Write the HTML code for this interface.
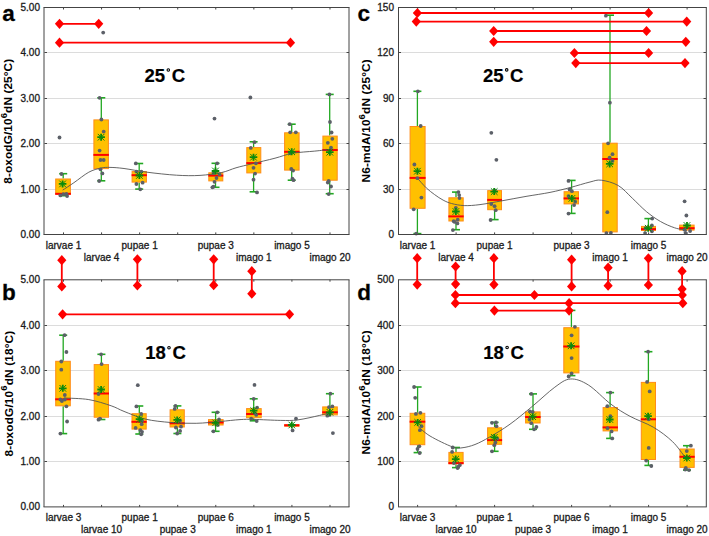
<!DOCTYPE html>
<html><head><meta charset="utf-8"><style>html,body{margin:0;padding:0;background:#fff;width:709px;height:536px;overflow:hidden}</style></head>
<body>
<svg width="709" height="536" viewBox="0 0 709 536" style="position:absolute;left:0;top:0;font-family:'Liberation Sans', sans-serif">
<rect width="709" height="536" fill="#fff"/>
<text x="40" y="238.10" text-anchor="end" font-size="10" fill="#1a1a1a" stroke="#1a1a1a" stroke-width="0.3">0.00</text>
<line x1="44.5" y1="189.50" x2="349.0" y2="189.50" stroke="#DCDCDC" stroke-width="1"/>
<line x1="44.5" y1="189.50" x2="47.0" y2="189.50" stroke="#444444" stroke-width="1"/>
<line x1="346.5" y1="189.50" x2="349.0" y2="189.50" stroke="#444444" stroke-width="1"/>
<text x="40" y="193.10" text-anchor="end" font-size="10" fill="#1a1a1a" stroke="#1a1a1a" stroke-width="0.3">1.00</text>
<line x1="44.5" y1="143.50" x2="349.0" y2="143.50" stroke="#DCDCDC" stroke-width="1"/>
<line x1="44.5" y1="143.50" x2="47.0" y2="143.50" stroke="#444444" stroke-width="1"/>
<line x1="346.5" y1="143.50" x2="349.0" y2="143.50" stroke="#444444" stroke-width="1"/>
<text x="40" y="147.10" text-anchor="end" font-size="10" fill="#1a1a1a" stroke="#1a1a1a" stroke-width="0.3">2.00</text>
<line x1="44.5" y1="98.50" x2="349.0" y2="98.50" stroke="#DCDCDC" stroke-width="1"/>
<line x1="44.5" y1="98.50" x2="47.0" y2="98.50" stroke="#444444" stroke-width="1"/>
<line x1="346.5" y1="98.50" x2="349.0" y2="98.50" stroke="#444444" stroke-width="1"/>
<text x="40" y="102.10" text-anchor="end" font-size="10" fill="#1a1a1a" stroke="#1a1a1a" stroke-width="0.3">3.00</text>
<line x1="44.5" y1="52.50" x2="349.0" y2="52.50" stroke="#DCDCDC" stroke-width="1"/>
<line x1="44.5" y1="52.50" x2="47.0" y2="52.50" stroke="#444444" stroke-width="1"/>
<line x1="346.5" y1="52.50" x2="349.0" y2="52.50" stroke="#444444" stroke-width="1"/>
<text x="40" y="56.10" text-anchor="end" font-size="10" fill="#1a1a1a" stroke="#1a1a1a" stroke-width="0.3">4.00</text>
<text x="40" y="11.10" text-anchor="end" font-size="10" fill="#1a1a1a" stroke="#1a1a1a" stroke-width="0.3">5.00</text>
<line x1="63.50" y1="7.5" x2="63.50" y2="9.5" stroke="#444444" stroke-width="1"/>
<line x1="63.50" y1="232.4" x2="63.50" y2="234.4" stroke="#444444" stroke-width="1"/>
<line x1="101.57" y1="7.5" x2="101.57" y2="9.5" stroke="#444444" stroke-width="1"/>
<line x1="101.57" y1="232.4" x2="101.57" y2="234.4" stroke="#444444" stroke-width="1"/>
<line x1="139.64" y1="7.5" x2="139.64" y2="9.5" stroke="#444444" stroke-width="1"/>
<line x1="139.64" y1="232.4" x2="139.64" y2="234.4" stroke="#444444" stroke-width="1"/>
<line x1="177.71" y1="7.5" x2="177.71" y2="9.5" stroke="#444444" stroke-width="1"/>
<line x1="177.71" y1="232.4" x2="177.71" y2="234.4" stroke="#444444" stroke-width="1"/>
<line x1="215.78" y1="7.5" x2="215.78" y2="9.5" stroke="#444444" stroke-width="1"/>
<line x1="215.78" y1="232.4" x2="215.78" y2="234.4" stroke="#444444" stroke-width="1"/>
<line x1="253.85" y1="7.5" x2="253.85" y2="9.5" stroke="#444444" stroke-width="1"/>
<line x1="253.85" y1="232.4" x2="253.85" y2="234.4" stroke="#444444" stroke-width="1"/>
<line x1="291.92" y1="7.5" x2="291.92" y2="9.5" stroke="#444444" stroke-width="1"/>
<line x1="291.92" y1="232.4" x2="291.92" y2="234.4" stroke="#444444" stroke-width="1"/>
<line x1="329.99" y1="7.5" x2="329.99" y2="9.5" stroke="#444444" stroke-width="1"/>
<line x1="329.99" y1="232.4" x2="329.99" y2="234.4" stroke="#444444" stroke-width="1"/>
<line x1="63.20" y1="173.70" x2="63.20" y2="178.50" stroke="#22A822" stroke-width="1.3"/>
<line x1="59.20" y1="173.70" x2="67.20" y2="173.70" stroke="#22A822" stroke-width="1.6"/>
<line x1="63.20" y1="194.70" x2="63.20" y2="195.70" stroke="#22A822" stroke-width="1.3"/>
<line x1="59.20" y1="195.70" x2="67.20" y2="195.70" stroke="#22A822" stroke-width="1.6"/>
<rect x="55.70" y="179.00" width="14.70" height="15.20" fill="#FFC000" stroke="#FF8C18" stroke-width="1"/>
<line x1="55.20" y1="193.80" x2="70.90" y2="193.80" stroke="#FF0000" stroke-width="2"/>
<line x1="101.30" y1="97.80" x2="101.30" y2="119.40" stroke="#22A822" stroke-width="1.3"/>
<line x1="97.30" y1="97.80" x2="105.30" y2="97.80" stroke="#22A822" stroke-width="1.6"/>
<line x1="101.30" y1="169.10" x2="101.30" y2="180.80" stroke="#22A822" stroke-width="1.3"/>
<line x1="97.30" y1="180.80" x2="105.30" y2="180.80" stroke="#22A822" stroke-width="1.6"/>
<rect x="93.90" y="119.90" width="14.50" height="48.70" fill="#FFC000" stroke="#FF8C18" stroke-width="1"/>
<line x1="93.40" y1="154.90" x2="108.90" y2="154.90" stroke="#FF0000" stroke-width="2"/>
<line x1="139.20" y1="163.50" x2="139.20" y2="171.10" stroke="#22A822" stroke-width="1.3"/>
<line x1="135.20" y1="163.50" x2="143.20" y2="163.50" stroke="#22A822" stroke-width="1.6"/>
<line x1="139.20" y1="182.60" x2="139.20" y2="189.10" stroke="#22A822" stroke-width="1.3"/>
<line x1="135.20" y1="189.10" x2="143.20" y2="189.10" stroke="#22A822" stroke-width="1.6"/>
<rect x="132.10" y="171.60" width="14.30" height="10.50" fill="#FFC000" stroke="#FF8C18" stroke-width="1"/>
<line x1="131.60" y1="175.20" x2="146.90" y2="175.20" stroke="#FF0000" stroke-width="2"/>
<line x1="215.50" y1="163.30" x2="215.50" y2="172.30" stroke="#22A822" stroke-width="1.3"/>
<line x1="211.50" y1="163.30" x2="219.50" y2="163.30" stroke="#22A822" stroke-width="1.6"/>
<line x1="215.50" y1="181.40" x2="215.50" y2="187.30" stroke="#22A822" stroke-width="1.3"/>
<line x1="211.50" y1="187.30" x2="219.50" y2="187.30" stroke="#22A822" stroke-width="1.6"/>
<rect x="208.80" y="172.80" width="14.00" height="8.10" fill="#FFC000" stroke="#FF8C18" stroke-width="1"/>
<line x1="208.30" y1="175.60" x2="223.30" y2="175.60" stroke="#FF0000" stroke-width="2"/>
<line x1="253.60" y1="141.80" x2="253.60" y2="147.10" stroke="#22A822" stroke-width="1.3"/>
<line x1="249.60" y1="141.80" x2="257.60" y2="141.80" stroke="#22A822" stroke-width="1.6"/>
<line x1="253.60" y1="173.40" x2="253.60" y2="191.80" stroke="#22A822" stroke-width="1.3"/>
<line x1="249.60" y1="191.80" x2="257.60" y2="191.80" stroke="#22A822" stroke-width="1.6"/>
<rect x="246.80" y="147.60" width="14.00" height="25.30" fill="#FFC000" stroke="#FF8C18" stroke-width="1"/>
<line x1="246.30" y1="163.10" x2="261.30" y2="163.10" stroke="#FF0000" stroke-width="2"/>
<line x1="291.70" y1="124.20" x2="291.70" y2="132.30" stroke="#22A822" stroke-width="1.3"/>
<line x1="287.70" y1="124.20" x2="295.70" y2="124.20" stroke="#22A822" stroke-width="1.6"/>
<line x1="291.70" y1="170.60" x2="291.70" y2="180.20" stroke="#22A822" stroke-width="1.3"/>
<line x1="287.70" y1="180.20" x2="295.70" y2="180.20" stroke="#22A822" stroke-width="1.6"/>
<rect x="284.60" y="132.80" width="14.50" height="37.30" fill="#FFC000" stroke="#FF8C18" stroke-width="1"/>
<line x1="284.10" y1="151.80" x2="299.60" y2="151.80" stroke="#FF0000" stroke-width="2"/>
<line x1="329.70" y1="94.40" x2="329.70" y2="135.60" stroke="#22A822" stroke-width="1.3"/>
<line x1="325.70" y1="94.40" x2="333.70" y2="94.40" stroke="#22A822" stroke-width="1.6"/>
<line x1="329.70" y1="180.70" x2="329.70" y2="193.70" stroke="#22A822" stroke-width="1.3"/>
<line x1="325.70" y1="193.70" x2="333.70" y2="193.70" stroke="#22A822" stroke-width="1.6"/>
<rect x="322.90" y="136.10" width="14.30" height="44.10" fill="#FFC000" stroke="#FF8C18" stroke-width="1"/>
<line x1="322.40" y1="150.00" x2="337.70" y2="150.00" stroke="#FF0000" stroke-width="2"/>
<path d="M62.70,190.10 C64.57,188.87 69.55,185.68 73.90,182.70 C78.25,179.72 84.33,174.63 88.80,172.20 C93.27,169.77 97.17,168.90 100.70,168.10 C104.23,167.30 106.12,167.33 110.00,167.40 C113.88,167.47 117.83,167.70 124.00,168.50 C130.17,169.30 138.27,171.08 147.00,172.20 C155.73,173.32 167.57,174.67 176.40,175.20 C185.23,175.73 192.45,175.85 200.00,175.40 C207.55,174.95 215.70,173.77 221.70,172.50 C227.70,171.23 230.88,169.27 236.00,167.80 C241.12,166.33 245.90,165.30 252.40,163.70 C258.90,162.10 268.33,159.93 275.00,158.20 C281.67,156.47 285.77,154.48 292.40,153.30 C299.03,152.12 308.70,151.72 314.80,151.10 C320.90,150.48 326.63,149.85 329.00,149.60" stroke="#555" stroke-width="0.9" fill="none"/>
<circle cx="59.50" cy="137.50" r="1.9" fill="#5C6068"/>
<circle cx="61.50" cy="174.00" r="1.9" fill="#5C6068"/>
<circle cx="60.40" cy="195.40" r="1.9" fill="#5C6068"/>
<circle cx="63.40" cy="194.20" r="1.9" fill="#5C6068"/>
<circle cx="66.40" cy="193.90" r="1.9" fill="#5C6068"/>
<circle cx="67.10" cy="196.10" r="1.9" fill="#5C6068"/>
<path d="M58.80,183.90L66.40,183.90M62.60,180.40L62.60,187.40" stroke="#0B8A0B" stroke-width="1.8" fill="none"/>
<path d="M59.30,180.60L65.90,187.20M59.30,187.20L65.90,180.60" stroke="#0B8A0B" stroke-width="1.0" fill="none"/>
<circle cx="103.20" cy="32.60" r="1.9" fill="#5C6068"/>
<circle cx="99.60" cy="97.80" r="1.9" fill="#5C6068"/>
<circle cx="101.40" cy="119.50" r="1.9" fill="#5C6068"/>
<circle cx="103.70" cy="131.60" r="1.9" fill="#5C6068"/>
<circle cx="99.60" cy="150.60" r="1.9" fill="#5C6068"/>
<circle cx="100.50" cy="160.00" r="1.9" fill="#5C6068"/>
<circle cx="103.70" cy="160.00" r="1.9" fill="#5C6068"/>
<circle cx="100.50" cy="169.30" r="1.9" fill="#5C6068"/>
<circle cx="102.40" cy="173.40" r="1.9" fill="#5C6068"/>
<circle cx="99.20" cy="181.00" r="1.9" fill="#5C6068"/>
<path d="M97.30,137.20L104.90,137.20M101.10,133.70L101.10,140.70" stroke="#0B8A0B" stroke-width="1.8" fill="none"/>
<path d="M97.80,133.90L104.40,140.50M97.80,140.50L104.40,133.90" stroke="#0B8A0B" stroke-width="1.0" fill="none"/>
<circle cx="135.80" cy="163.40" r="1.9" fill="#5C6068"/>
<circle cx="136.40" cy="171.60" r="1.9" fill="#5C6068"/>
<circle cx="141.40" cy="171.60" r="1.9" fill="#5C6068"/>
<circle cx="136.40" cy="184.00" r="1.9" fill="#5C6068"/>
<circle cx="142.60" cy="182.70" r="1.9" fill="#5C6068"/>
<circle cx="140.30" cy="189.30" r="1.9" fill="#5C6068"/>
<path d="M135.60,175.50L143.20,175.50M139.40,172.00L139.40,179.00" stroke="#0B8A0B" stroke-width="1.8" fill="none"/>
<path d="M136.10,172.20L142.70,178.80M136.10,178.80L142.70,172.20" stroke="#0B8A0B" stroke-width="1.0" fill="none"/>
<circle cx="214.50" cy="118.60" r="1.9" fill="#5C6068"/>
<circle cx="217.20" cy="163.30" r="1.9" fill="#5C6068"/>
<circle cx="213.50" cy="173.00" r="1.9" fill="#5C6068"/>
<circle cx="219.60" cy="174.40" r="1.9" fill="#5C6068"/>
<circle cx="216.50" cy="178.00" r="1.9" fill="#5C6068"/>
<circle cx="214.50" cy="181.80" r="1.9" fill="#5C6068"/>
<circle cx="212.40" cy="187.30" r="1.9" fill="#5C6068"/>
<circle cx="213.50" cy="186.70" r="1.9" fill="#5C6068"/>
<path d="M211.70,171.00L219.30,171.00M215.50,167.50L215.50,174.50" stroke="#0B8A0B" stroke-width="1.8" fill="none"/>
<path d="M212.20,167.70L218.80,174.30M212.20,174.30L218.80,167.70" stroke="#0B8A0B" stroke-width="1.0" fill="none"/>
<circle cx="250.40" cy="97.50" r="1.9" fill="#5C6068"/>
<circle cx="254.50" cy="142.20" r="1.9" fill="#5C6068"/>
<circle cx="250.80" cy="147.90" r="1.9" fill="#5C6068"/>
<circle cx="255.90" cy="163.30" r="1.9" fill="#5C6068"/>
<circle cx="253.50" cy="167.80" r="1.9" fill="#5C6068"/>
<circle cx="255.10" cy="173.60" r="1.9" fill="#5C6068"/>
<circle cx="253.50" cy="179.70" r="1.9" fill="#5C6068"/>
<circle cx="257.00" cy="192.40" r="1.9" fill="#5C6068"/>
<path d="M249.70,157.20L257.30,157.20M253.50,153.70L253.50,160.70" stroke="#0B8A0B" stroke-width="1.8" fill="none"/>
<path d="M250.20,153.90L256.80,160.50M250.20,160.50L256.80,153.90" stroke="#0B8A0B" stroke-width="1.0" fill="none"/>
<circle cx="289.70" cy="124.20" r="1.9" fill="#5C6068"/>
<circle cx="290.20" cy="132.30" r="1.9" fill="#5C6068"/>
<circle cx="295.80" cy="132.30" r="1.9" fill="#5C6068"/>
<circle cx="290.20" cy="153.30" r="1.9" fill="#5C6068"/>
<circle cx="291.30" cy="169.00" r="1.9" fill="#5C6068"/>
<circle cx="293.10" cy="170.60" r="1.9" fill="#5C6068"/>
<circle cx="292.40" cy="178.70" r="1.9" fill="#5C6068"/>
<circle cx="293.50" cy="180.20" r="1.9" fill="#5C6068"/>
<path d="M287.90,151.80L295.50,151.80M291.70,148.30L291.70,155.30" stroke="#0B8A0B" stroke-width="1.8" fill="none"/>
<path d="M288.40,148.50L295.00,155.10M288.40,155.10L295.00,148.50" stroke="#0B8A0B" stroke-width="1.0" fill="none"/>
<circle cx="329.40" cy="94.40" r="1.9" fill="#5C6068"/>
<circle cx="330.00" cy="122.00" r="1.9" fill="#5C6068"/>
<circle cx="331.60" cy="132.50" r="1.9" fill="#5C6068"/>
<circle cx="332.30" cy="138.80" r="1.9" fill="#5C6068"/>
<circle cx="327.80" cy="142.80" r="1.9" fill="#5C6068"/>
<circle cx="331.00" cy="147.70" r="1.9" fill="#5C6068"/>
<circle cx="328.70" cy="180.90" r="1.9" fill="#5C6068"/>
<circle cx="327.80" cy="182.50" r="1.9" fill="#5C6068"/>
<circle cx="331.00" cy="186.50" r="1.9" fill="#5C6068"/>
<circle cx="328.70" cy="194.10" r="1.9" fill="#5C6068"/>
<path d="M326.00,152.20L333.60,152.20M329.80,148.70L329.80,155.70" stroke="#0B8A0B" stroke-width="1.8" fill="none"/>
<path d="M326.50,148.90L333.10,155.50M326.50,155.50L333.10,148.90" stroke="#0B8A0B" stroke-width="1.0" fill="none"/>
<line x1="43.5" y1="7.5" x2="349.5" y2="7.5" stroke="#444444" stroke-width="1"/>
<line x1="43.5" y1="234.5" x2="349.5" y2="234.5" stroke="#444444" stroke-width="1"/>
<line x1="44.0" y1="7.5" x2="44.0" y2="234.5" stroke="#444444" stroke-width="1"/>
<line x1="349.0" y1="7.5" x2="349.0" y2="234.5" stroke="#444444" stroke-width="1"/>
<text x="63.50" y="248.70" text-anchor="middle" font-size="10" font-weight="normal" fill="#1a1a1a" stroke="#1a1a1a" stroke-width="0.3">larvae 1</text>
<text x="139.64" y="248.70" text-anchor="middle" font-size="10" font-weight="normal" fill="#1a1a1a" stroke="#1a1a1a" stroke-width="0.3">pupae 1</text>
<text x="215.78" y="248.70" text-anchor="middle" font-size="10" font-weight="normal" fill="#1a1a1a" stroke="#1a1a1a" stroke-width="0.3">pupae 3</text>
<text x="291.92" y="248.70" text-anchor="middle" font-size="10" font-weight="normal" fill="#1a1a1a" stroke="#1a1a1a" stroke-width="0.3">imago 5</text>
<text x="101.57" y="260.60" text-anchor="middle" font-size="10" font-weight="normal" fill="#1a1a1a" stroke="#1a1a1a" stroke-width="0.3">larvae 4</text>
<text x="253.85" y="260.60" text-anchor="middle" font-size="10" font-weight="normal" fill="#1a1a1a" stroke="#1a1a1a" stroke-width="0.3">imago 1</text>
<text x="329.99" y="260.60" text-anchor="middle" font-size="10" font-weight="normal" fill="#1a1a1a" stroke="#1a1a1a" stroke-width="0.3">imago 20</text>
<text x="40" y="510.10" text-anchor="end" font-size="10" fill="#1a1a1a" stroke="#1a1a1a" stroke-width="0.3">0.00</text>
<line x1="44.5" y1="461.50" x2="349.0" y2="461.50" stroke="#DCDCDC" stroke-width="1"/>
<line x1="44.5" y1="461.50" x2="47.0" y2="461.50" stroke="#444444" stroke-width="1"/>
<line x1="346.5" y1="461.50" x2="349.0" y2="461.50" stroke="#444444" stroke-width="1"/>
<text x="40" y="465.10" text-anchor="end" font-size="10" fill="#1a1a1a" stroke="#1a1a1a" stroke-width="0.3">1.00</text>
<line x1="44.5" y1="416.50" x2="349.0" y2="416.50" stroke="#DCDCDC" stroke-width="1"/>
<line x1="44.5" y1="416.50" x2="47.0" y2="416.50" stroke="#444444" stroke-width="1"/>
<line x1="346.5" y1="416.50" x2="349.0" y2="416.50" stroke="#444444" stroke-width="1"/>
<text x="40" y="420.10" text-anchor="end" font-size="10" fill="#1a1a1a" stroke="#1a1a1a" stroke-width="0.3">2.00</text>
<line x1="44.5" y1="370.50" x2="349.0" y2="370.50" stroke="#DCDCDC" stroke-width="1"/>
<line x1="44.5" y1="370.50" x2="47.0" y2="370.50" stroke="#444444" stroke-width="1"/>
<line x1="346.5" y1="370.50" x2="349.0" y2="370.50" stroke="#444444" stroke-width="1"/>
<text x="40" y="374.10" text-anchor="end" font-size="10" fill="#1a1a1a" stroke="#1a1a1a" stroke-width="0.3">3.00</text>
<line x1="44.5" y1="325.50" x2="349.0" y2="325.50" stroke="#DCDCDC" stroke-width="1"/>
<line x1="44.5" y1="325.50" x2="47.0" y2="325.50" stroke="#444444" stroke-width="1"/>
<line x1="346.5" y1="325.50" x2="349.0" y2="325.50" stroke="#444444" stroke-width="1"/>
<text x="40" y="329.10" text-anchor="end" font-size="10" fill="#1a1a1a" stroke="#1a1a1a" stroke-width="0.3">4.00</text>
<text x="40" y="283.10" text-anchor="end" font-size="10" fill="#1a1a1a" stroke="#1a1a1a" stroke-width="0.3">5.00</text>
<line x1="63.50" y1="279.7" x2="63.50" y2="281.7" stroke="#444444" stroke-width="1"/>
<line x1="63.50" y1="504.9" x2="63.50" y2="506.9" stroke="#444444" stroke-width="1"/>
<line x1="101.57" y1="279.7" x2="101.57" y2="281.7" stroke="#444444" stroke-width="1"/>
<line x1="101.57" y1="504.9" x2="101.57" y2="506.9" stroke="#444444" stroke-width="1"/>
<line x1="139.64" y1="279.7" x2="139.64" y2="281.7" stroke="#444444" stroke-width="1"/>
<line x1="139.64" y1="504.9" x2="139.64" y2="506.9" stroke="#444444" stroke-width="1"/>
<line x1="177.71" y1="279.7" x2="177.71" y2="281.7" stroke="#444444" stroke-width="1"/>
<line x1="177.71" y1="504.9" x2="177.71" y2="506.9" stroke="#444444" stroke-width="1"/>
<line x1="215.78" y1="279.7" x2="215.78" y2="281.7" stroke="#444444" stroke-width="1"/>
<line x1="215.78" y1="504.9" x2="215.78" y2="506.9" stroke="#444444" stroke-width="1"/>
<line x1="253.85" y1="279.7" x2="253.85" y2="281.7" stroke="#444444" stroke-width="1"/>
<line x1="253.85" y1="504.9" x2="253.85" y2="506.9" stroke="#444444" stroke-width="1"/>
<line x1="291.92" y1="279.7" x2="291.92" y2="281.7" stroke="#444444" stroke-width="1"/>
<line x1="291.92" y1="504.9" x2="291.92" y2="506.9" stroke="#444444" stroke-width="1"/>
<line x1="329.99" y1="279.7" x2="329.99" y2="281.7" stroke="#444444" stroke-width="1"/>
<line x1="329.99" y1="504.9" x2="329.99" y2="506.9" stroke="#444444" stroke-width="1"/>
<line x1="63.20" y1="335.20" x2="63.20" y2="360.80" stroke="#22A822" stroke-width="1.3"/>
<line x1="59.20" y1="335.20" x2="67.20" y2="335.20" stroke="#22A822" stroke-width="1.6"/>
<line x1="63.20" y1="406.30" x2="63.20" y2="433.60" stroke="#22A822" stroke-width="1.3"/>
<line x1="59.20" y1="433.60" x2="67.20" y2="433.60" stroke="#22A822" stroke-width="1.6"/>
<rect x="55.70" y="361.30" width="14.60" height="44.50" fill="#FFC000" stroke="#FF8C18" stroke-width="1"/>
<line x1="55.20" y1="399.30" x2="70.80" y2="399.30" stroke="#FF0000" stroke-width="2"/>
<line x1="101.40" y1="354.30" x2="101.40" y2="364.10" stroke="#22A822" stroke-width="1.3"/>
<line x1="97.40" y1="354.30" x2="105.40" y2="354.30" stroke="#22A822" stroke-width="1.6"/>
<line x1="101.40" y1="417.70" x2="101.40" y2="419.50" stroke="#22A822" stroke-width="1.3"/>
<line x1="97.40" y1="419.50" x2="105.40" y2="419.50" stroke="#22A822" stroke-width="1.6"/>
<rect x="94.20" y="364.60" width="14.30" height="52.60" fill="#FFC000" stroke="#FF8C18" stroke-width="1"/>
<line x1="93.70" y1="393.50" x2="109.00" y2="393.50" stroke="#FF0000" stroke-width="2"/>
<line x1="139.30" y1="406.00" x2="139.30" y2="413.20" stroke="#22A822" stroke-width="1.3"/>
<line x1="135.30" y1="406.00" x2="143.30" y2="406.00" stroke="#22A822" stroke-width="1.6"/>
<line x1="139.30" y1="429.60" x2="139.30" y2="434.00" stroke="#22A822" stroke-width="1.3"/>
<line x1="135.30" y1="434.00" x2="143.30" y2="434.00" stroke="#22A822" stroke-width="1.6"/>
<rect x="132.00" y="413.70" width="14.20" height="15.40" fill="#FFC000" stroke="#FF8C18" stroke-width="1"/>
<line x1="131.50" y1="421.80" x2="146.70" y2="421.80" stroke="#FF0000" stroke-width="2"/>
<line x1="177.40" y1="405.90" x2="177.40" y2="409.30" stroke="#22A822" stroke-width="1.3"/>
<line x1="173.40" y1="405.90" x2="181.40" y2="405.90" stroke="#22A822" stroke-width="1.6"/>
<line x1="177.40" y1="427.50" x2="177.40" y2="433.50" stroke="#22A822" stroke-width="1.3"/>
<line x1="173.40" y1="433.50" x2="181.40" y2="433.50" stroke="#22A822" stroke-width="1.6"/>
<rect x="170.10" y="409.80" width="14.20" height="17.20" fill="#FFC000" stroke="#FF8C18" stroke-width="1"/>
<line x1="169.60" y1="423.30" x2="184.80" y2="423.30" stroke="#FF0000" stroke-width="2"/>
<line x1="215.60" y1="412.30" x2="215.60" y2="419.10" stroke="#22A822" stroke-width="1.3"/>
<line x1="211.60" y1="412.30" x2="219.60" y2="412.30" stroke="#22A822" stroke-width="1.6"/>
<line x1="215.60" y1="425.50" x2="215.60" y2="431.30" stroke="#22A822" stroke-width="1.3"/>
<line x1="211.60" y1="431.30" x2="219.60" y2="431.30" stroke="#22A822" stroke-width="1.6"/>
<rect x="208.50" y="419.60" width="14.60" height="5.40" fill="#FFC000" stroke="#FF8C18" stroke-width="1"/>
<line x1="208.00" y1="422.50" x2="223.60" y2="422.50" stroke="#FF0000" stroke-width="2"/>
<line x1="253.70" y1="398.80" x2="253.70" y2="408.10" stroke="#22A822" stroke-width="1.3"/>
<line x1="249.70" y1="398.80" x2="257.70" y2="398.80" stroke="#22A822" stroke-width="1.6"/>
<line x1="253.70" y1="418.20" x2="253.70" y2="420.80" stroke="#22A822" stroke-width="1.3"/>
<line x1="249.70" y1="420.80" x2="257.70" y2="420.80" stroke="#22A822" stroke-width="1.6"/>
<rect x="246.60" y="408.60" width="14.60" height="9.10" fill="#FFC000" stroke="#FF8C18" stroke-width="1"/>
<line x1="246.10" y1="414.00" x2="261.70" y2="414.00" stroke="#FF0000" stroke-width="2"/>
<rect x="284.70" y="424.70" width="14.20" height="1.50" fill="#FFC000" stroke="#FF8C18" stroke-width="1"/>
<line x1="284.20" y1="425.30" x2="299.40" y2="425.30" stroke="#FF0000" stroke-width="2"/>
<line x1="329.90" y1="393.70" x2="329.90" y2="406.40" stroke="#22A822" stroke-width="1.3"/>
<line x1="325.90" y1="393.70" x2="333.90" y2="393.70" stroke="#22A822" stroke-width="1.6"/>
<rect x="322.70" y="406.90" width="14.60" height="8.00" fill="#FFC000" stroke="#FF8C18" stroke-width="1"/>
<line x1="322.20" y1="412.30" x2="337.80" y2="412.30" stroke="#FF0000" stroke-width="2"/>
<path d="M64.20,398.00 C68.30,398.27 80.97,398.30 88.80,399.60 C96.63,400.90 105.33,403.83 111.20,405.80 C117.07,407.77 118.30,409.18 124.00,411.40 C129.70,413.62 137.60,417.25 145.40,419.10 C153.20,420.95 162.33,421.80 170.80,422.50 C179.27,423.20 188.00,423.47 196.20,423.30 C204.40,423.13 212.70,422.12 220.00,421.50 C227.30,420.88 234.38,419.95 240.00,419.60 C245.62,419.25 246.90,419.27 253.70,419.40 C260.50,419.53 273.47,420.32 280.80,420.40 C288.13,420.48 291.22,420.73 297.70,419.90 C304.18,419.07 314.05,416.67 319.70,415.40 C325.35,414.13 329.62,412.82 331.60,412.30" stroke="#555" stroke-width="0.9" fill="none"/>
<circle cx="64.60" cy="335.20" r="1.9" fill="#5C6068"/>
<circle cx="66.40" cy="352.00" r="1.9" fill="#5C6068"/>
<circle cx="61.30" cy="361.50" r="1.9" fill="#5C6068"/>
<circle cx="61.30" cy="369.70" r="1.9" fill="#5C6068"/>
<circle cx="64.80" cy="395.00" r="1.9" fill="#5C6068"/>
<circle cx="60.40" cy="399.50" r="1.9" fill="#5C6068"/>
<circle cx="64.80" cy="399.50" r="1.9" fill="#5C6068"/>
<circle cx="61.90" cy="401.00" r="1.9" fill="#5C6068"/>
<circle cx="66.40" cy="406.30" r="1.9" fill="#5C6068"/>
<circle cx="67.10" cy="421.50" r="1.9" fill="#5C6068"/>
<circle cx="60.40" cy="433.60" r="1.9" fill="#5C6068"/>
<path d="M59.00,388.30L66.60,388.30M62.80,384.80L62.80,391.80" stroke="#0B8A0B" stroke-width="1.8" fill="none"/>
<path d="M59.50,385.00L66.10,391.60M59.50,391.60L66.10,385.00" stroke="#0B8A0B" stroke-width="1.0" fill="none"/>
<circle cx="101.10" cy="354.30" r="1.9" fill="#5C6068"/>
<circle cx="101.60" cy="364.10" r="1.9" fill="#5C6068"/>
<circle cx="98.50" cy="394.00" r="1.9" fill="#5C6068"/>
<circle cx="98.50" cy="419.70" r="1.9" fill="#5C6068"/>
<circle cx="100.00" cy="418.60" r="1.9" fill="#5C6068"/>
<path d="M97.30,389.50L104.90,389.50M101.10,386.00L101.10,393.00" stroke="#0B8A0B" stroke-width="1.8" fill="none"/>
<path d="M97.80,386.20L104.40,392.80M97.80,392.80L104.40,386.20" stroke="#0B8A0B" stroke-width="1.0" fill="none"/>
<circle cx="137.80" cy="385.20" r="1.9" fill="#5C6068"/>
<circle cx="136.40" cy="406.40" r="1.9" fill="#5C6068"/>
<circle cx="141.20" cy="414.00" r="1.9" fill="#5C6068"/>
<circle cx="142.00" cy="420.80" r="1.9" fill="#5C6068"/>
<circle cx="141.70" cy="424.20" r="1.9" fill="#5C6068"/>
<circle cx="135.60" cy="427.90" r="1.9" fill="#5C6068"/>
<circle cx="140.30" cy="430.10" r="1.9" fill="#5C6068"/>
<circle cx="142.00" cy="431.80" r="1.9" fill="#5C6068"/>
<circle cx="141.20" cy="434.30" r="1.9" fill="#5C6068"/>
<path d="M135.70,419.10L143.30,419.10M139.50,415.60L139.50,422.60" stroke="#0B8A0B" stroke-width="1.8" fill="none"/>
<path d="M136.20,415.80L142.80,422.40M136.20,422.40L142.80,415.80" stroke="#0B8A0B" stroke-width="1.0" fill="none"/>
<circle cx="175.50" cy="405.90" r="1.9" fill="#5C6068"/>
<circle cx="174.70" cy="408.90" r="1.9" fill="#5C6068"/>
<circle cx="180.10" cy="420.40" r="1.9" fill="#5C6068"/>
<circle cx="175.90" cy="427.50" r="1.9" fill="#5C6068"/>
<circle cx="181.00" cy="426.70" r="1.9" fill="#5C6068"/>
<circle cx="180.10" cy="430.90" r="1.9" fill="#5C6068"/>
<circle cx="177.20" cy="433.50" r="1.9" fill="#5C6068"/>
<path d="M173.40,419.90L181.00,419.90M177.20,416.40L177.20,423.40" stroke="#0B8A0B" stroke-width="1.8" fill="none"/>
<path d="M173.90,416.60L180.50,423.20M173.90,423.20L180.50,416.60" stroke="#0B8A0B" stroke-width="1.0" fill="none"/>
<circle cx="217.30" cy="412.30" r="1.9" fill="#5C6068"/>
<circle cx="219.00" cy="419.40" r="1.9" fill="#5C6068"/>
<circle cx="217.80" cy="425.00" r="1.9" fill="#5C6068"/>
<circle cx="213.40" cy="431.30" r="1.9" fill="#5C6068"/>
<path d="M211.80,422.80L219.40,422.80M215.60,419.30L215.60,426.30" stroke="#0B8A0B" stroke-width="1.8" fill="none"/>
<path d="M212.30,419.50L218.90,426.10M212.30,426.10L218.90,419.50" stroke="#0B8A0B" stroke-width="1.0" fill="none"/>
<circle cx="254.50" cy="384.90" r="1.9" fill="#5C6068"/>
<circle cx="253.70" cy="398.80" r="1.9" fill="#5C6068"/>
<circle cx="257.10" cy="407.60" r="1.9" fill="#5C6068"/>
<circle cx="255.00" cy="413.20" r="1.9" fill="#5C6068"/>
<circle cx="256.20" cy="414.90" r="1.9" fill="#5C6068"/>
<circle cx="251.20" cy="418.70" r="1.9" fill="#5C6068"/>
<circle cx="256.70" cy="421.10" r="1.9" fill="#5C6068"/>
<path d="M249.90,410.60L257.50,410.60M253.70,407.10L253.70,414.10" stroke="#0B8A0B" stroke-width="1.8" fill="none"/>
<path d="M250.40,407.30L257.00,413.90M250.40,413.90L257.00,407.30" stroke="#0B8A0B" stroke-width="1.0" fill="none"/>
<circle cx="296.00" cy="418.70" r="1.9" fill="#5C6068"/>
<circle cx="292.60" cy="430.40" r="1.9" fill="#5C6068"/>
<path d="M288.00,425.00L295.60,425.00M291.80,421.50L291.80,428.50" stroke="#0B8A0B" stroke-width="1.8" fill="none"/>
<path d="M288.50,421.70L295.10,428.30M288.50,428.30L295.10,421.70" stroke="#0B8A0B" stroke-width="1.0" fill="none"/>
<circle cx="330.40" cy="393.70" r="1.9" fill="#5C6068"/>
<circle cx="329.00" cy="407.20" r="1.9" fill="#5C6068"/>
<circle cx="332.40" cy="406.40" r="1.9" fill="#5C6068"/>
<circle cx="327.30" cy="415.70" r="1.9" fill="#5C6068"/>
<circle cx="329.50" cy="414.90" r="1.9" fill="#5C6068"/>
<circle cx="332.90" cy="433.10" r="1.9" fill="#5C6068"/>
<path d="M326.10,412.30L333.70,412.30M329.90,408.80L329.90,415.80" stroke="#0B8A0B" stroke-width="1.8" fill="none"/>
<path d="M326.60,409.00L333.20,415.60M326.60,415.60L333.20,409.00" stroke="#0B8A0B" stroke-width="1.0" fill="none"/>
<line x1="43.5" y1="279.8" x2="349.5" y2="279.8" stroke="#444444" stroke-width="1"/>
<line x1="43.5" y1="506.9" x2="349.5" y2="506.9" stroke="#444444" stroke-width="1"/>
<line x1="44.0" y1="279.8" x2="44.0" y2="506.9" stroke="#444444" stroke-width="1"/>
<line x1="349.0" y1="279.8" x2="349.0" y2="506.9" stroke="#444444" stroke-width="1"/>
<text x="63.50" y="521.20" text-anchor="middle" font-size="10" font-weight="normal" fill="#1a1a1a" stroke="#1a1a1a" stroke-width="0.3">larvae 3</text>
<text x="139.64" y="521.20" text-anchor="middle" font-size="10" font-weight="normal" fill="#1a1a1a" stroke="#1a1a1a" stroke-width="0.3">pupae 1</text>
<text x="215.78" y="521.20" text-anchor="middle" font-size="10" font-weight="normal" fill="#1a1a1a" stroke="#1a1a1a" stroke-width="0.3">pupae 6</text>
<text x="291.92" y="521.20" text-anchor="middle" font-size="10" font-weight="normal" fill="#1a1a1a" stroke="#1a1a1a" stroke-width="0.3">imago 5</text>
<text x="101.57" y="533.10" text-anchor="middle" font-size="10" font-weight="normal" fill="#1a1a1a" stroke="#1a1a1a" stroke-width="0.3">larvae 10</text>
<text x="177.71" y="533.10" text-anchor="middle" font-size="10" font-weight="normal" fill="#1a1a1a" stroke="#1a1a1a" stroke-width="0.3">pupae 3</text>
<text x="253.85" y="533.10" text-anchor="middle" font-size="10" font-weight="normal" fill="#1a1a1a" stroke="#1a1a1a" stroke-width="0.3">imago 1</text>
<text x="329.99" y="533.10" text-anchor="middle" font-size="10" font-weight="normal" fill="#1a1a1a" stroke="#1a1a1a" stroke-width="0.3">imago 20</text>
<text x="394" y="238.10" text-anchor="end" font-size="10" fill="#1a1a1a" stroke="#1a1a1a" stroke-width="0.3">0</text>
<line x1="398.5" y1="189.50" x2="706.0" y2="189.50" stroke="#DCDCDC" stroke-width="1"/>
<line x1="398.5" y1="189.50" x2="401.0" y2="189.50" stroke="#444444" stroke-width="1"/>
<line x1="703.5" y1="189.50" x2="706.0" y2="189.50" stroke="#444444" stroke-width="1"/>
<text x="394" y="193.10" text-anchor="end" font-size="10" fill="#1a1a1a" stroke="#1a1a1a" stroke-width="0.3">30</text>
<line x1="398.5" y1="143.50" x2="706.0" y2="143.50" stroke="#DCDCDC" stroke-width="1"/>
<line x1="398.5" y1="143.50" x2="401.0" y2="143.50" stroke="#444444" stroke-width="1"/>
<line x1="703.5" y1="143.50" x2="706.0" y2="143.50" stroke="#444444" stroke-width="1"/>
<text x="394" y="147.10" text-anchor="end" font-size="10" fill="#1a1a1a" stroke="#1a1a1a" stroke-width="0.3">60</text>
<line x1="398.5" y1="98.50" x2="706.0" y2="98.50" stroke="#DCDCDC" stroke-width="1"/>
<line x1="398.5" y1="98.50" x2="401.0" y2="98.50" stroke="#444444" stroke-width="1"/>
<line x1="703.5" y1="98.50" x2="706.0" y2="98.50" stroke="#444444" stroke-width="1"/>
<text x="394" y="102.10" text-anchor="end" font-size="10" fill="#1a1a1a" stroke="#1a1a1a" stroke-width="0.3">90</text>
<line x1="398.5" y1="52.50" x2="706.0" y2="52.50" stroke="#DCDCDC" stroke-width="1"/>
<line x1="398.5" y1="52.50" x2="401.0" y2="52.50" stroke="#444444" stroke-width="1"/>
<line x1="703.5" y1="52.50" x2="706.0" y2="52.50" stroke="#444444" stroke-width="1"/>
<text x="394" y="56.10" text-anchor="end" font-size="10" fill="#1a1a1a" stroke="#1a1a1a" stroke-width="0.3">120</text>
<text x="394" y="11.10" text-anchor="end" font-size="10" fill="#1a1a1a" stroke="#1a1a1a" stroke-width="0.3">150</text>
<line x1="417.60" y1="7.5" x2="417.60" y2="9.5" stroke="#444444" stroke-width="1"/>
<line x1="417.60" y1="232.4" x2="417.60" y2="234.4" stroke="#444444" stroke-width="1"/>
<line x1="456.10" y1="7.5" x2="456.10" y2="9.5" stroke="#444444" stroke-width="1"/>
<line x1="456.10" y1="232.4" x2="456.10" y2="234.4" stroke="#444444" stroke-width="1"/>
<line x1="494.60" y1="7.5" x2="494.60" y2="9.5" stroke="#444444" stroke-width="1"/>
<line x1="494.60" y1="232.4" x2="494.60" y2="234.4" stroke="#444444" stroke-width="1"/>
<line x1="533.10" y1="7.5" x2="533.10" y2="9.5" stroke="#444444" stroke-width="1"/>
<line x1="533.10" y1="232.4" x2="533.10" y2="234.4" stroke="#444444" stroke-width="1"/>
<line x1="571.60" y1="7.5" x2="571.60" y2="9.5" stroke="#444444" stroke-width="1"/>
<line x1="571.60" y1="232.4" x2="571.60" y2="234.4" stroke="#444444" stroke-width="1"/>
<line x1="610.10" y1="7.5" x2="610.10" y2="9.5" stroke="#444444" stroke-width="1"/>
<line x1="610.10" y1="232.4" x2="610.10" y2="234.4" stroke="#444444" stroke-width="1"/>
<line x1="648.60" y1="7.5" x2="648.60" y2="9.5" stroke="#444444" stroke-width="1"/>
<line x1="648.60" y1="232.4" x2="648.60" y2="234.4" stroke="#444444" stroke-width="1"/>
<line x1="687.10" y1="7.5" x2="687.10" y2="9.5" stroke="#444444" stroke-width="1"/>
<line x1="687.10" y1="232.4" x2="687.10" y2="234.4" stroke="#444444" stroke-width="1"/>
<line x1="417.40" y1="91.30" x2="417.40" y2="126.00" stroke="#22A822" stroke-width="1.3"/>
<line x1="413.40" y1="91.30" x2="421.40" y2="91.30" stroke="#22A822" stroke-width="1.6"/>
<line x1="417.40" y1="208.80" x2="417.40" y2="233.60" stroke="#22A822" stroke-width="1.3"/>
<line x1="413.40" y1="233.60" x2="421.40" y2="233.60" stroke="#22A822" stroke-width="1.6"/>
<rect x="410.10" y="126.50" width="15.00" height="81.80" fill="#FFC000" stroke="#FF8C18" stroke-width="1"/>
<line x1="409.60" y1="177.90" x2="425.60" y2="177.90" stroke="#FF0000" stroke-width="2"/>
<line x1="456.00" y1="192.10" x2="456.00" y2="197.30" stroke="#22A822" stroke-width="1.3"/>
<line x1="452.00" y1="192.10" x2="460.00" y2="192.10" stroke="#22A822" stroke-width="1.6"/>
<line x1="456.00" y1="221.50" x2="456.00" y2="229.70" stroke="#22A822" stroke-width="1.3"/>
<line x1="452.00" y1="229.70" x2="460.00" y2="229.70" stroke="#22A822" stroke-width="1.6"/>
<rect x="448.90" y="197.80" width="14.30" height="23.20" fill="#FFC000" stroke="#FF8C18" stroke-width="1"/>
<line x1="448.40" y1="216.40" x2="463.70" y2="216.40" stroke="#FF0000" stroke-width="2"/>
<line x1="494.60" y1="210.20" x2="494.60" y2="219.60" stroke="#22A822" stroke-width="1.3"/>
<line x1="490.60" y1="219.60" x2="498.60" y2="219.60" stroke="#22A822" stroke-width="1.6"/>
<rect x="487.70" y="190.60" width="13.80" height="19.10" fill="#FFC000" stroke="#FF8C18" stroke-width="1"/>
<line x1="487.20" y1="199.90" x2="502.00" y2="199.90" stroke="#FF0000" stroke-width="2"/>
<line x1="571.60" y1="180.40" x2="571.60" y2="191.20" stroke="#22A822" stroke-width="1.3"/>
<line x1="567.60" y1="180.40" x2="575.60" y2="180.40" stroke="#22A822" stroke-width="1.6"/>
<line x1="571.60" y1="204.40" x2="571.60" y2="213.40" stroke="#22A822" stroke-width="1.3"/>
<line x1="567.60" y1="213.40" x2="575.60" y2="213.40" stroke="#22A822" stroke-width="1.6"/>
<rect x="564.10" y="191.70" width="14.40" height="12.20" fill="#FFC000" stroke="#FF8C18" stroke-width="1"/>
<line x1="563.60" y1="198.40" x2="579.00" y2="198.40" stroke="#FF0000" stroke-width="2"/>
<line x1="610.00" y1="15.20" x2="610.00" y2="142.70" stroke="#22A822" stroke-width="1.3"/>
<line x1="606.00" y1="15.20" x2="614.00" y2="15.20" stroke="#22A822" stroke-width="1.6"/>
<rect x="602.80" y="143.20" width="14.40" height="88.70" fill="#FFC000" stroke="#FF8C18" stroke-width="1"/>
<line x1="602.30" y1="159.00" x2="617.70" y2="159.00" stroke="#FF0000" stroke-width="2"/>
<line x1="648.40" y1="218.60" x2="648.40" y2="225.90" stroke="#22A822" stroke-width="1.3"/>
<line x1="644.40" y1="218.60" x2="652.40" y2="218.60" stroke="#22A822" stroke-width="1.6"/>
<rect x="641.50" y="226.40" width="14.00" height="4.10" fill="#FFC000" stroke="#FF8C18" stroke-width="1"/>
<line x1="641.00" y1="229.10" x2="656.00" y2="229.10" stroke="#FF0000" stroke-width="2"/>
<rect x="679.70" y="225.10" width="14.40" height="5.00" fill="#FFC000" stroke="#FF8C18" stroke-width="1"/>
<line x1="679.20" y1="228.20" x2="694.60" y2="228.20" stroke="#FF0000" stroke-width="2"/>
<path d="M417.30,178.10 C418.78,179.72 423.32,185.05 426.20,187.80 C429.08,190.55 431.78,192.55 434.60,194.60 C437.42,196.65 440.28,198.62 443.10,200.10 C445.92,201.58 447.98,202.58 451.50,203.50 C455.02,204.42 459.45,205.42 464.20,205.60 C468.95,205.78 473.70,205.40 480.00,204.60 C486.30,203.80 494.33,202.17 502.00,200.80 C509.67,199.43 518.00,197.80 526.00,196.40 C534.00,195.00 542.67,193.87 550.00,192.40 C557.33,190.93 563.33,189.33 570.00,187.60 C576.67,185.87 584.78,183.23 590.00,182.00 C595.22,180.77 596.60,179.62 601.30,180.20 C606.00,180.78 613.03,182.50 618.20,185.50 C623.37,188.50 627.60,193.85 632.30,198.20 C637.00,202.55 641.70,207.72 646.40,211.60 C651.10,215.48 655.80,218.80 660.50,221.50 C665.20,224.20 670.18,226.30 674.60,227.80 C679.02,229.30 684.93,230.05 687.00,230.50" stroke="#555" stroke-width="0.9" fill="none"/>
<circle cx="417.90" cy="91.30" r="1.9" fill="#5C6068"/>
<circle cx="420.70" cy="126.00" r="1.9" fill="#5C6068"/>
<circle cx="414.40" cy="164.50" r="1.9" fill="#5C6068"/>
<circle cx="417.40" cy="178.20" r="1.9" fill="#5C6068"/>
<circle cx="421.40" cy="197.60" r="1.9" fill="#5C6068"/>
<circle cx="413.70" cy="209.30" r="1.9" fill="#5C6068"/>
<circle cx="416.20" cy="233.60" r="1.9" fill="#5C6068"/>
<path d="M413.60,171.20L421.20,171.20M417.40,167.70L417.40,174.70" stroke="#0B8A0B" stroke-width="1.8" fill="none"/>
<path d="M414.10,167.90L420.70,174.50M414.10,174.50L420.70,167.90" stroke="#0B8A0B" stroke-width="1.0" fill="none"/>
<circle cx="458.40" cy="192.10" r="1.9" fill="#5C6068"/>
<circle cx="459.20" cy="195.10" r="1.9" fill="#5C6068"/>
<circle cx="459.50" cy="198.10" r="1.9" fill="#5C6068"/>
<circle cx="455.80" cy="207.80" r="1.9" fill="#5C6068"/>
<circle cx="457.70" cy="219.70" r="1.9" fill="#5C6068"/>
<circle cx="453.70" cy="221.20" r="1.9" fill="#5C6068"/>
<circle cx="454.70" cy="221.90" r="1.9" fill="#5C6068"/>
<circle cx="457.40" cy="223.40" r="1.9" fill="#5C6068"/>
<circle cx="452.90" cy="230.10" r="1.9" fill="#5C6068"/>
<path d="M452.10,211.50L459.70,211.50M455.90,208.00L455.90,215.00" stroke="#0B8A0B" stroke-width="1.8" fill="none"/>
<path d="M452.60,208.20L459.20,214.80M452.60,214.80L459.20,208.20" stroke="#0B8A0B" stroke-width="1.0" fill="none"/>
<circle cx="491.30" cy="132.80" r="1.9" fill="#5C6068"/>
<circle cx="496.40" cy="159.80" r="1.9" fill="#5C6068"/>
<circle cx="494.60" cy="190.50" r="1.9" fill="#5C6068"/>
<circle cx="491.30" cy="204.00" r="1.9" fill="#5C6068"/>
<circle cx="494.60" cy="206.20" r="1.9" fill="#5C6068"/>
<circle cx="495.70" cy="210.20" r="1.9" fill="#5C6068"/>
<circle cx="490.60" cy="220.00" r="1.9" fill="#5C6068"/>
<path d="M490.40,191.60L498.00,191.60M494.20,188.10L494.20,195.10" stroke="#0B8A0B" stroke-width="1.8" fill="none"/>
<path d="M490.90,188.30L497.50,194.90M490.90,194.90L497.50,188.30" stroke="#0B8A0B" stroke-width="1.0" fill="none"/>
<circle cx="568.50" cy="180.90" r="1.9" fill="#5C6068"/>
<circle cx="569.60" cy="189.40" r="1.9" fill="#5C6068"/>
<circle cx="571.90" cy="191.20" r="1.9" fill="#5C6068"/>
<circle cx="568.50" cy="196.10" r="1.9" fill="#5C6068"/>
<circle cx="575.20" cy="201.70" r="1.9" fill="#5C6068"/>
<circle cx="574.10" cy="205.10" r="1.9" fill="#5C6068"/>
<circle cx="568.50" cy="213.60" r="1.9" fill="#5C6068"/>
<path d="M568.10,198.40L575.70,198.40M571.90,194.90L571.90,201.90" stroke="#0B8A0B" stroke-width="1.8" fill="none"/>
<path d="M568.60,195.10L575.20,201.70M568.60,201.70L575.20,195.10" stroke="#0B8A0B" stroke-width="1.0" fill="none"/>
<circle cx="605.90" cy="15.70" r="1.9" fill="#5C6068"/>
<circle cx="609.90" cy="102.70" r="1.9" fill="#5C6068"/>
<circle cx="608.10" cy="143.30" r="1.9" fill="#5C6068"/>
<circle cx="612.50" cy="154.20" r="1.9" fill="#5C6068"/>
<circle cx="609.60" cy="157.60" r="1.9" fill="#5C6068"/>
<circle cx="612.50" cy="160.90" r="1.9" fill="#5C6068"/>
<circle cx="607.30" cy="212.20" r="1.9" fill="#5C6068"/>
<circle cx="606.40" cy="233.10" r="1.9" fill="#5C6068"/>
<circle cx="610.90" cy="232.80" r="1.9" fill="#5C6068"/>
<path d="M605.90,163.90L613.50,163.90M609.70,160.40L609.70,167.40" stroke="#0B8A0B" stroke-width="1.8" fill="none"/>
<path d="M606.40,160.60L613.00,167.20M606.40,167.20L613.00,160.60" stroke="#0B8A0B" stroke-width="1.0" fill="none"/>
<circle cx="652.20" cy="218.60" r="1.9" fill="#5C6068"/>
<circle cx="651.90" cy="225.50" r="1.9" fill="#5C6068"/>
<circle cx="645.50" cy="228.20" r="1.9" fill="#5C6068"/>
<circle cx="651.90" cy="231.30" r="1.9" fill="#5C6068"/>
<circle cx="645.10" cy="233.10" r="1.9" fill="#5C6068"/>
<path d="M644.40,228.20L652.00,228.20M648.20,224.70L648.20,231.70" stroke="#0B8A0B" stroke-width="1.8" fill="none"/>
<path d="M644.90,224.90L651.50,231.50M644.90,231.50L651.50,224.90" stroke="#0B8A0B" stroke-width="1.0" fill="none"/>
<circle cx="684.60" cy="201.30" r="1.9" fill="#5C6068"/>
<circle cx="686.40" cy="215.50" r="1.9" fill="#5C6068"/>
<circle cx="684.60" cy="229.70" r="1.9" fill="#5C6068"/>
<circle cx="690.10" cy="231.00" r="1.9" fill="#5C6068"/>
<circle cx="685.50" cy="232.80" r="1.9" fill="#5C6068"/>
<path d="M683.20,225.50L690.80,225.50M687.00,222.00L687.00,229.00" stroke="#0B8A0B" stroke-width="1.8" fill="none"/>
<path d="M683.70,222.20L690.30,228.80M683.70,228.80L690.30,222.20" stroke="#0B8A0B" stroke-width="1.0" fill="none"/>
<line x1="398.0" y1="7.5" x2="706.8" y2="7.5" stroke="#444444" stroke-width="1"/>
<line x1="398.0" y1="234.5" x2="706.8" y2="234.5" stroke="#444444" stroke-width="1"/>
<line x1="398.5" y1="7.5" x2="398.5" y2="234.5" stroke="#444444" stroke-width="1"/>
<line x1="706.3" y1="7.5" x2="706.3" y2="234.5" stroke="#444444" stroke-width="1"/>
<text x="417.60" y="248.70" text-anchor="middle" font-size="10" font-weight="normal" fill="#1a1a1a" stroke="#1a1a1a" stroke-width="0.3">larvae 1</text>
<text x="494.60" y="248.70" text-anchor="middle" font-size="10" font-weight="normal" fill="#1a1a1a" stroke="#1a1a1a" stroke-width="0.3">pupae 1</text>
<text x="571.60" y="248.70" text-anchor="middle" font-size="10" font-weight="normal" fill="#1a1a1a" stroke="#1a1a1a" stroke-width="0.3">pupae 3</text>
<text x="648.60" y="248.70" text-anchor="middle" font-size="10" font-weight="normal" fill="#1a1a1a" stroke="#1a1a1a" stroke-width="0.3">imago 5</text>
<text x="456.10" y="260.60" text-anchor="middle" font-size="10" font-weight="normal" fill="#1a1a1a" stroke="#1a1a1a" stroke-width="0.3">larvae 4</text>
<text x="610.10" y="260.60" text-anchor="middle" font-size="10" font-weight="normal" fill="#1a1a1a" stroke="#1a1a1a" stroke-width="0.3">imago 1</text>
<text x="687.10" y="260.60" text-anchor="middle" font-size="10" font-weight="normal" fill="#1a1a1a" stroke="#1a1a1a" stroke-width="0.3">imago 20</text>
<text x="394" y="510.10" text-anchor="end" font-size="10" fill="#1a1a1a" stroke="#1a1a1a" stroke-width="0.3">0</text>
<line x1="398.5" y1="461.50" x2="706.0" y2="461.50" stroke="#DCDCDC" stroke-width="1"/>
<line x1="398.5" y1="461.50" x2="401.0" y2="461.50" stroke="#444444" stroke-width="1"/>
<line x1="703.5" y1="461.50" x2="706.0" y2="461.50" stroke="#444444" stroke-width="1"/>
<text x="394" y="465.10" text-anchor="end" font-size="10" fill="#1a1a1a" stroke="#1a1a1a" stroke-width="0.3">100</text>
<line x1="398.5" y1="416.50" x2="706.0" y2="416.50" stroke="#DCDCDC" stroke-width="1"/>
<line x1="398.5" y1="416.50" x2="401.0" y2="416.50" stroke="#444444" stroke-width="1"/>
<line x1="703.5" y1="416.50" x2="706.0" y2="416.50" stroke="#444444" stroke-width="1"/>
<text x="394" y="420.10" text-anchor="end" font-size="10" fill="#1a1a1a" stroke="#1a1a1a" stroke-width="0.3">200</text>
<line x1="398.5" y1="370.50" x2="706.0" y2="370.50" stroke="#DCDCDC" stroke-width="1"/>
<line x1="398.5" y1="370.50" x2="401.0" y2="370.50" stroke="#444444" stroke-width="1"/>
<line x1="703.5" y1="370.50" x2="706.0" y2="370.50" stroke="#444444" stroke-width="1"/>
<text x="394" y="374.10" text-anchor="end" font-size="10" fill="#1a1a1a" stroke="#1a1a1a" stroke-width="0.3">300</text>
<line x1="398.5" y1="325.50" x2="706.0" y2="325.50" stroke="#DCDCDC" stroke-width="1"/>
<line x1="398.5" y1="325.50" x2="401.0" y2="325.50" stroke="#444444" stroke-width="1"/>
<line x1="703.5" y1="325.50" x2="706.0" y2="325.50" stroke="#444444" stroke-width="1"/>
<text x="394" y="329.10" text-anchor="end" font-size="10" fill="#1a1a1a" stroke="#1a1a1a" stroke-width="0.3">400</text>
<text x="394" y="283.10" text-anchor="end" font-size="10" fill="#1a1a1a" stroke="#1a1a1a" stroke-width="0.3">500</text>
<line x1="417.60" y1="279.7" x2="417.60" y2="281.7" stroke="#444444" stroke-width="1"/>
<line x1="417.60" y1="504.9" x2="417.60" y2="506.9" stroke="#444444" stroke-width="1"/>
<line x1="456.10" y1="279.7" x2="456.10" y2="281.7" stroke="#444444" stroke-width="1"/>
<line x1="456.10" y1="504.9" x2="456.10" y2="506.9" stroke="#444444" stroke-width="1"/>
<line x1="494.60" y1="279.7" x2="494.60" y2="281.7" stroke="#444444" stroke-width="1"/>
<line x1="494.60" y1="504.9" x2="494.60" y2="506.9" stroke="#444444" stroke-width="1"/>
<line x1="533.10" y1="279.7" x2="533.10" y2="281.7" stroke="#444444" stroke-width="1"/>
<line x1="533.10" y1="504.9" x2="533.10" y2="506.9" stroke="#444444" stroke-width="1"/>
<line x1="571.60" y1="279.7" x2="571.60" y2="281.7" stroke="#444444" stroke-width="1"/>
<line x1="571.60" y1="504.9" x2="571.60" y2="506.9" stroke="#444444" stroke-width="1"/>
<line x1="610.10" y1="279.7" x2="610.10" y2="281.7" stroke="#444444" stroke-width="1"/>
<line x1="610.10" y1="504.9" x2="610.10" y2="506.9" stroke="#444444" stroke-width="1"/>
<line x1="648.60" y1="279.7" x2="648.60" y2="281.7" stroke="#444444" stroke-width="1"/>
<line x1="648.60" y1="504.9" x2="648.60" y2="506.9" stroke="#444444" stroke-width="1"/>
<line x1="687.10" y1="279.7" x2="687.10" y2="281.7" stroke="#444444" stroke-width="1"/>
<line x1="687.10" y1="504.9" x2="687.10" y2="506.9" stroke="#444444" stroke-width="1"/>
<line x1="417.60" y1="387.00" x2="417.60" y2="412.80" stroke="#22A822" stroke-width="1.3"/>
<line x1="413.60" y1="387.00" x2="421.60" y2="387.00" stroke="#22A822" stroke-width="1.6"/>
<line x1="417.60" y1="445.20" x2="417.60" y2="452.60" stroke="#22A822" stroke-width="1.3"/>
<line x1="413.60" y1="452.60" x2="421.60" y2="452.60" stroke="#22A822" stroke-width="1.6"/>
<rect x="410.10" y="413.30" width="14.70" height="31.40" fill="#FFC000" stroke="#FF8C18" stroke-width="1"/>
<line x1="409.60" y1="421.70" x2="425.30" y2="421.70" stroke="#FF0000" stroke-width="2"/>
<line x1="456.00" y1="447.50" x2="456.00" y2="451.90" stroke="#22A822" stroke-width="1.3"/>
<line x1="452.00" y1="447.50" x2="460.00" y2="447.50" stroke="#22A822" stroke-width="1.6"/>
<line x1="456.00" y1="464.30" x2="456.00" y2="467.60" stroke="#22A822" stroke-width="1.3"/>
<line x1="452.00" y1="467.60" x2="460.00" y2="467.60" stroke="#22A822" stroke-width="1.6"/>
<rect x="448.90" y="452.40" width="14.20" height="11.40" fill="#FFC000" stroke="#FF8C18" stroke-width="1"/>
<line x1="448.40" y1="463.10" x2="463.60" y2="463.10" stroke="#FF0000" stroke-width="2"/>
<line x1="494.60" y1="422.40" x2="494.60" y2="427.30" stroke="#22A822" stroke-width="1.3"/>
<line x1="490.60" y1="422.40" x2="498.60" y2="422.40" stroke="#22A822" stroke-width="1.6"/>
<line x1="494.60" y1="444.80" x2="494.60" y2="451.30" stroke="#22A822" stroke-width="1.3"/>
<line x1="490.60" y1="451.30" x2="498.60" y2="451.30" stroke="#22A822" stroke-width="1.6"/>
<rect x="487.60" y="427.80" width="14.00" height="16.50" fill="#FFC000" stroke="#FF8C18" stroke-width="1"/>
<line x1="487.10" y1="440.10" x2="502.10" y2="440.10" stroke="#FF0000" stroke-width="2"/>
<line x1="533.00" y1="393.90" x2="533.00" y2="411.40" stroke="#22A822" stroke-width="1.3"/>
<line x1="529.00" y1="393.90" x2="537.00" y2="393.90" stroke="#22A822" stroke-width="1.6"/>
<line x1="533.00" y1="423.50" x2="533.00" y2="429.30" stroke="#22A822" stroke-width="1.3"/>
<line x1="529.00" y1="429.30" x2="537.00" y2="429.30" stroke="#22A822" stroke-width="1.6"/>
<rect x="525.60" y="411.90" width="14.50" height="11.10" fill="#FFC000" stroke="#FF8C18" stroke-width="1"/>
<line x1="525.10" y1="417.00" x2="540.60" y2="417.00" stroke="#FF0000" stroke-width="2"/>
<line x1="571.40" y1="310.40" x2="571.40" y2="327.20" stroke="#22A822" stroke-width="1.3"/>
<line x1="567.40" y1="310.40" x2="575.40" y2="310.40" stroke="#22A822" stroke-width="1.6"/>
<line x1="571.40" y1="373.40" x2="571.40" y2="375.60" stroke="#22A822" stroke-width="1.3"/>
<line x1="567.40" y1="375.60" x2="575.40" y2="375.60" stroke="#22A822" stroke-width="1.6"/>
<rect x="563.80" y="327.70" width="15.10" height="45.20" fill="#FFC000" stroke="#FF8C18" stroke-width="1"/>
<line x1="563.30" y1="346.50" x2="579.40" y2="346.50" stroke="#FF0000" stroke-width="2"/>
<line x1="610.10" y1="392.60" x2="610.10" y2="407.10" stroke="#22A822" stroke-width="1.3"/>
<line x1="606.10" y1="392.60" x2="614.10" y2="392.60" stroke="#22A822" stroke-width="1.6"/>
<line x1="610.10" y1="431.40" x2="610.10" y2="438.40" stroke="#22A822" stroke-width="1.3"/>
<line x1="606.10" y1="438.40" x2="614.10" y2="438.40" stroke="#22A822" stroke-width="1.6"/>
<rect x="603.10" y="407.60" width="14.30" height="23.30" fill="#FFC000" stroke="#FF8C18" stroke-width="1"/>
<line x1="602.60" y1="427.40" x2="617.90" y2="427.40" stroke="#FF0000" stroke-width="2"/>
<line x1="648.40" y1="351.70" x2="648.40" y2="381.90" stroke="#22A822" stroke-width="1.3"/>
<line x1="644.40" y1="351.70" x2="652.40" y2="351.70" stroke="#22A822" stroke-width="1.6"/>
<line x1="648.40" y1="460.00" x2="648.40" y2="465.40" stroke="#22A822" stroke-width="1.3"/>
<line x1="644.40" y1="465.40" x2="652.40" y2="465.40" stroke="#22A822" stroke-width="1.6"/>
<rect x="641.30" y="382.40" width="14.20" height="77.10" fill="#FFC000" stroke="#FF8C18" stroke-width="1"/>
<line x1="640.80" y1="419.30" x2="656.00" y2="419.30" stroke="#FF0000" stroke-width="2"/>
<line x1="687.00" y1="445.70" x2="687.00" y2="448.50" stroke="#22A822" stroke-width="1.3"/>
<line x1="683.00" y1="445.70" x2="691.00" y2="445.70" stroke="#22A822" stroke-width="1.6"/>
<line x1="687.00" y1="467.90" x2="687.00" y2="470.10" stroke="#22A822" stroke-width="1.3"/>
<line x1="683.00" y1="470.10" x2="691.00" y2="470.10" stroke="#22A822" stroke-width="1.6"/>
<rect x="680.00" y="449.00" width="14.20" height="18.40" fill="#FFC000" stroke="#FF8C18" stroke-width="1"/>
<line x1="679.50" y1="456.80" x2="694.70" y2="456.80" stroke="#FF0000" stroke-width="2"/>
<path d="M417.60,426.00 C419.67,427.67 424.20,432.52 430.00,436.00 C435.80,439.48 447.07,444.93 452.40,446.90 C457.73,448.87 458.23,448.20 462.00,447.80 C465.77,447.40 470.38,446.30 475.00,444.50 C479.62,442.70 483.87,440.38 489.70,437.00 C495.53,433.62 502.88,429.32 510.00,424.20 C517.12,419.08 524.93,412.47 532.40,406.30 C539.87,400.13 548.47,391.75 554.80,387.20 C561.13,382.65 564.80,379.37 570.40,379.00 C576.00,378.63 581.68,380.83 588.40,385.00 C595.12,389.17 603.77,398.78 610.70,404.00 C617.63,409.22 622.87,412.42 630.00,416.30 C637.13,420.18 646.42,423.08 653.50,427.30 C660.58,431.52 667.22,436.58 672.50,441.60 C677.78,446.62 683.08,454.77 685.20,457.40" stroke="#555" stroke-width="0.9" fill="none"/>
<circle cx="414.10" cy="387.00" r="1.9" fill="#5C6068"/>
<circle cx="415.20" cy="397.80" r="1.9" fill="#5C6068"/>
<circle cx="415.90" cy="413.90" r="1.9" fill="#5C6068"/>
<circle cx="420.40" cy="412.80" r="1.9" fill="#5C6068"/>
<circle cx="421.50" cy="426.20" r="1.9" fill="#5C6068"/>
<circle cx="419.90" cy="430.20" r="1.9" fill="#5C6068"/>
<circle cx="419.30" cy="446.30" r="1.9" fill="#5C6068"/>
<circle cx="417.50" cy="449.00" r="1.9" fill="#5C6068"/>
<circle cx="419.70" cy="453.00" r="1.9" fill="#5C6068"/>
<path d="M413.90,422.40L421.50,422.40M417.70,418.90L417.70,425.90" stroke="#0B8A0B" stroke-width="1.8" fill="none"/>
<path d="M414.40,419.10L421.00,425.70M414.40,425.70L421.00,419.10" stroke="#0B8A0B" stroke-width="1.0" fill="none"/>
<circle cx="452.70" cy="447.50" r="1.9" fill="#5C6068"/>
<circle cx="452.10" cy="451.90" r="1.9" fill="#5C6068"/>
<circle cx="453.90" cy="463.10" r="1.9" fill="#5C6068"/>
<circle cx="459.90" cy="465.10" r="1.9" fill="#5C6068"/>
<circle cx="457.60" cy="468.10" r="1.9" fill="#5C6068"/>
<circle cx="458.40" cy="466.60" r="1.9" fill="#5C6068"/>
<path d="M451.90,459.10L459.50,459.10M455.70,455.60L455.70,462.60" stroke="#0B8A0B" stroke-width="1.8" fill="none"/>
<path d="M452.40,455.80L459.00,462.40M452.40,462.40L459.00,455.80" stroke="#0B8A0B" stroke-width="1.0" fill="none"/>
<circle cx="492.00" cy="422.80" r="1.9" fill="#5C6068"/>
<circle cx="496.00" cy="422.40" r="1.9" fill="#5C6068"/>
<circle cx="496.50" cy="426.20" r="1.9" fill="#5C6068"/>
<circle cx="497.20" cy="438.50" r="1.9" fill="#5C6068"/>
<circle cx="495.40" cy="442.50" r="1.9" fill="#5C6068"/>
<circle cx="494.30" cy="445.20" r="1.9" fill="#5C6068"/>
<circle cx="492.00" cy="451.30" r="1.9" fill="#5C6068"/>
<path d="M490.50,437.40L498.10,437.40M494.30,433.90L494.30,440.90" stroke="#0B8A0B" stroke-width="1.8" fill="none"/>
<path d="M491.00,434.10L497.60,440.70M491.00,440.70L497.60,434.10" stroke="#0B8A0B" stroke-width="1.0" fill="none"/>
<circle cx="531.30" cy="393.90" r="1.9" fill="#5C6068"/>
<circle cx="529.90" cy="411.40" r="1.9" fill="#5C6068"/>
<circle cx="532.70" cy="412.00" r="1.9" fill="#5C6068"/>
<circle cx="529.50" cy="419.50" r="1.9" fill="#5C6068"/>
<circle cx="531.30" cy="423.20" r="1.9" fill="#5C6068"/>
<circle cx="534.10" cy="429.30" r="1.9" fill="#5C6068"/>
<circle cx="536.40" cy="427.00" r="1.9" fill="#5C6068"/>
<path d="M528.90,416.70L536.50,416.70M532.70,413.20L532.70,420.20" stroke="#0B8A0B" stroke-width="1.8" fill="none"/>
<path d="M529.40,413.40L536.00,420.00M529.40,420.00L536.00,413.40" stroke="#0B8A0B" stroke-width="1.0" fill="none"/>
<circle cx="574.90" cy="326.80" r="1.9" fill="#5C6068"/>
<circle cx="571.60" cy="335.30" r="1.9" fill="#5C6068"/>
<circle cx="571.60" cy="358.10" r="1.9" fill="#5C6068"/>
<circle cx="571.60" cy="373.40" r="1.9" fill="#5C6068"/>
<circle cx="568.70" cy="376.50" r="1.9" fill="#5C6068"/>
<path d="M567.30,345.80L574.90,345.80M571.10,342.30L571.10,349.30" stroke="#0B8A0B" stroke-width="1.8" fill="none"/>
<path d="M567.80,342.50L574.40,349.10M567.80,349.10L574.40,342.50" stroke="#0B8A0B" stroke-width="1.0" fill="none"/>
<circle cx="610.40" cy="392.60" r="1.9" fill="#5C6068"/>
<circle cx="607.30" cy="406.20" r="1.9" fill="#5C6068"/>
<circle cx="610.40" cy="416.20" r="1.9" fill="#5C6068"/>
<circle cx="607.50" cy="428.20" r="1.9" fill="#5C6068"/>
<circle cx="611.60" cy="431.40" r="1.9" fill="#5C6068"/>
<circle cx="612.20" cy="438.40" r="1.9" fill="#5C6068"/>
<path d="M606.00,419.50L613.60,419.50M609.80,416.00L609.80,423.00" stroke="#0B8A0B" stroke-width="1.8" fill="none"/>
<path d="M606.50,416.20L613.10,422.80M606.50,422.80L613.10,416.20" stroke="#0B8A0B" stroke-width="1.0" fill="none"/>
<circle cx="648.10" cy="351.70" r="1.9" fill="#5C6068"/>
<circle cx="647.10" cy="381.90" r="1.9" fill="#5C6068"/>
<circle cx="649.70" cy="391.40" r="1.9" fill="#5C6068"/>
<circle cx="648.70" cy="419.30" r="1.9" fill="#5C6068"/>
<circle cx="648.70" cy="447.90" r="1.9" fill="#5C6068"/>
<circle cx="646.20" cy="460.60" r="1.9" fill="#5C6068"/>
<circle cx="651.30" cy="466.00" r="1.9" fill="#5C6068"/>
<path d="M644.30,416.20L651.90,416.20M648.10,412.70L648.10,419.70" stroke="#0B8A0B" stroke-width="1.8" fill="none"/>
<path d="M644.80,412.90L651.40,419.50M644.80,419.50L651.40,412.90" stroke="#0B8A0B" stroke-width="1.0" fill="none"/>
<circle cx="690.90" cy="445.70" r="1.9" fill="#5C6068"/>
<circle cx="686.80" cy="451.10" r="1.9" fill="#5C6068"/>
<circle cx="685.80" cy="467.90" r="1.9" fill="#5C6068"/>
<circle cx="689.00" cy="470.10" r="1.9" fill="#5C6068"/>
<circle cx="685.20" cy="469.50" r="1.9" fill="#5C6068"/>
<path d="M683.00,458.00L690.60,458.00M686.80,454.50L686.80,461.50" stroke="#0B8A0B" stroke-width="1.8" fill="none"/>
<path d="M683.50,454.70L690.10,461.30M683.50,461.30L690.10,454.70" stroke="#0B8A0B" stroke-width="1.0" fill="none"/>
<line x1="398.0" y1="279.8" x2="706.8" y2="279.8" stroke="#444444" stroke-width="1"/>
<line x1="398.0" y1="506.9" x2="706.8" y2="506.9" stroke="#444444" stroke-width="1"/>
<line x1="398.5" y1="279.8" x2="398.5" y2="506.9" stroke="#444444" stroke-width="1"/>
<line x1="706.3" y1="279.8" x2="706.3" y2="506.9" stroke="#444444" stroke-width="1"/>
<text x="417.60" y="521.20" text-anchor="middle" font-size="10" font-weight="normal" fill="#1a1a1a" stroke="#1a1a1a" stroke-width="0.3">larvae 3</text>
<text x="494.60" y="521.20" text-anchor="middle" font-size="10" font-weight="normal" fill="#1a1a1a" stroke="#1a1a1a" stroke-width="0.3">pupae 1</text>
<text x="571.60" y="521.20" text-anchor="middle" font-size="10" font-weight="normal" fill="#1a1a1a" stroke="#1a1a1a" stroke-width="0.3">pupae 6</text>
<text x="648.60" y="521.20" text-anchor="middle" font-size="10" font-weight="normal" fill="#1a1a1a" stroke="#1a1a1a" stroke-width="0.3">imago 5</text>
<text x="456.10" y="533.10" text-anchor="middle" font-size="10" font-weight="normal" fill="#1a1a1a" stroke="#1a1a1a" stroke-width="0.3">larvae 10</text>
<text x="533.10" y="533.10" text-anchor="middle" font-size="10" font-weight="normal" fill="#1a1a1a" stroke="#1a1a1a" stroke-width="0.3">pupae 3</text>
<text x="610.10" y="533.10" text-anchor="middle" font-size="10" font-weight="normal" fill="#1a1a1a" stroke="#1a1a1a" stroke-width="0.3">imago 1</text>
<text x="687.10" y="533.10" text-anchor="middle" font-size="10" font-weight="normal" fill="#1a1a1a" stroke="#1a1a1a" stroke-width="0.3">imago 20</text>
<line x1="59.50" y1="23.80" x2="98.70" y2="23.80" stroke="#FF0000" stroke-width="1.8"/>
<path d="M59.50,18.70L64.10,23.80L59.50,28.90L54.90,23.80Z" fill="#FF0000"/>
<path d="M98.70,18.70L103.30,23.80L98.70,28.90L94.10,23.80Z" fill="#FF0000"/>
<line x1="59.50" y1="42.70" x2="290.50" y2="42.70" stroke="#FF0000" stroke-width="1.8"/>
<path d="M59.50,37.60L64.10,42.70L59.50,47.80L54.90,42.70Z" fill="#FF0000"/>
<path d="M290.50,37.60L295.10,42.70L290.50,47.80L285.90,42.70Z" fill="#FF0000"/>
<line x1="61.80" y1="260.20" x2="61.80" y2="286.40" stroke="#FF0000" stroke-width="1.8"/>
<path d="M61.80,255.10L66.40,260.20L61.80,265.30L57.20,260.20Z" fill="#FF0000"/>
<path d="M61.80,281.30L66.40,286.40L61.80,291.50L57.20,286.40Z" fill="#FF0000"/>
<line x1="137.40" y1="259.30" x2="137.40" y2="285.50" stroke="#FF0000" stroke-width="1.8"/>
<path d="M137.40,254.20L142.00,259.30L137.40,264.40L132.80,259.30Z" fill="#FF0000"/>
<path d="M137.40,280.40L142.00,285.50L137.40,290.60L132.80,285.50Z" fill="#FF0000"/>
<line x1="213.70" y1="259.30" x2="213.70" y2="285.20" stroke="#FF0000" stroke-width="1.8"/>
<path d="M213.70,254.20L218.30,259.30L213.70,264.40L209.10,259.30Z" fill="#FF0000"/>
<path d="M213.70,280.10L218.30,285.20L213.70,290.30L209.10,285.20Z" fill="#FF0000"/>
<line x1="251.80" y1="271.20" x2="251.80" y2="293.70" stroke="#FF0000" stroke-width="1.8"/>
<path d="M251.80,266.10L256.40,271.20L251.80,276.30L247.20,271.20Z" fill="#FF0000"/>
<path d="M251.80,288.60L256.40,293.70L251.80,298.80L247.20,293.70Z" fill="#FF0000"/>
<line x1="62.60" y1="314.30" x2="289.50" y2="314.30" stroke="#FF0000" stroke-width="1.8"/>
<path d="M62.60,309.20L67.20,314.30L62.60,319.40L58.00,314.30Z" fill="#FF0000"/>
<path d="M289.50,309.20L294.10,314.30L289.50,319.40L284.90,314.30Z" fill="#FF0000"/>
<line x1="417.40" y1="13.00" x2="648.60" y2="13.00" stroke="#FF0000" stroke-width="1.8"/>
<path d="M417.40,7.90L422.00,13.00L417.40,18.10L412.80,13.00Z" fill="#FF0000"/>
<path d="M648.60,7.90L653.20,13.00L648.60,18.10L644.00,13.00Z" fill="#FF0000"/>
<line x1="416.30" y1="21.60" x2="686.70" y2="21.60" stroke="#FF0000" stroke-width="1.8"/>
<path d="M416.30,16.50L420.90,21.60L416.30,26.70L411.70,21.60Z" fill="#FF0000"/>
<path d="M686.70,16.50L691.30,21.60L686.70,26.70L682.10,21.60Z" fill="#FF0000"/>
<line x1="493.70" y1="31.00" x2="646.50" y2="31.00" stroke="#FF0000" stroke-width="1.8"/>
<path d="M493.70,25.90L498.30,31.00L493.70,36.10L489.10,31.00Z" fill="#FF0000"/>
<path d="M646.50,25.90L651.10,31.00L646.50,36.10L641.90,31.00Z" fill="#FF0000"/>
<line x1="493.70" y1="41.80" x2="685.80" y2="41.80" stroke="#FF0000" stroke-width="1.8"/>
<path d="M493.70,36.70L498.30,41.80L493.70,46.90L489.10,41.80Z" fill="#FF0000"/>
<path d="M685.80,36.70L690.40,41.80L685.80,46.90L681.20,41.80Z" fill="#FF0000"/>
<line x1="574.40" y1="53.00" x2="648.60" y2="53.00" stroke="#FF0000" stroke-width="1.8"/>
<path d="M574.40,47.90L579.00,53.00L574.40,58.10L569.80,53.00Z" fill="#FF0000"/>
<path d="M648.60,47.90L653.20,53.00L648.60,58.10L644.00,53.00Z" fill="#FF0000"/>
<line x1="575.80" y1="63.10" x2="685.00" y2="63.10" stroke="#FF0000" stroke-width="1.8"/>
<path d="M575.80,58.00L580.40,63.10L575.80,68.20L571.20,63.10Z" fill="#FF0000"/>
<path d="M685.00,58.00L689.60,63.10L685.00,68.20L680.40,63.10Z" fill="#FF0000"/>
<line x1="417.20" y1="258.20" x2="417.20" y2="284.60" stroke="#FF0000" stroke-width="1.8"/>
<path d="M417.20,253.10L421.80,258.20L417.20,263.30L412.60,258.20Z" fill="#FF0000"/>
<path d="M417.20,279.50L421.80,284.60L417.20,289.70L412.60,284.60Z" fill="#FF0000"/>
<line x1="455.60" y1="266.50" x2="455.60" y2="284.10" stroke="#FF0000" stroke-width="1.8"/>
<path d="M455.60,261.40L460.20,266.50L455.60,271.60L451.00,266.50Z" fill="#FF0000"/>
<path d="M455.60,279.00L460.20,284.10L455.60,289.20L451.00,284.10Z" fill="#FF0000"/>
<line x1="493.90" y1="258.20" x2="493.90" y2="284.60" stroke="#FF0000" stroke-width="1.8"/>
<path d="M493.90,253.10L498.50,258.20L493.90,263.30L489.30,258.20Z" fill="#FF0000"/>
<path d="M493.90,279.50L498.50,284.60L493.90,289.70L489.30,284.60Z" fill="#FF0000"/>
<line x1="571.60" y1="259.70" x2="571.60" y2="286.40" stroke="#FF0000" stroke-width="1.8"/>
<path d="M571.60,254.60L576.20,259.70L571.60,264.80L567.00,259.70Z" fill="#FF0000"/>
<path d="M571.60,281.30L576.20,286.40L571.60,291.50L567.00,286.40Z" fill="#FF0000"/>
<line x1="608.10" y1="267.70" x2="608.10" y2="285.70" stroke="#FF0000" stroke-width="1.8"/>
<path d="M608.10,262.60L612.70,267.70L608.10,272.80L603.50,267.70Z" fill="#FF0000"/>
<path d="M608.10,280.60L612.70,285.70L608.10,290.80L603.50,285.70Z" fill="#FF0000"/>
<line x1="648.40" y1="258.30" x2="648.40" y2="285.00" stroke="#FF0000" stroke-width="1.8"/>
<path d="M648.40,253.20L653.00,258.30L648.40,263.40L643.80,258.30Z" fill="#FF0000"/>
<path d="M648.40,279.90L653.00,285.00L648.40,290.10L643.80,285.00Z" fill="#FF0000"/>
<line x1="682.10" y1="271.20" x2="682.10" y2="289.10" stroke="#FF0000" stroke-width="1.8"/>
<path d="M682.10,266.10L686.70,271.20L682.10,276.30L677.50,271.20Z" fill="#FF0000"/>
<path d="M682.10,284.00L686.70,289.10L682.10,294.20L677.50,289.10Z" fill="#FF0000"/>
<line x1="455.40" y1="295.00" x2="682.30" y2="295.00" stroke="#FF0000" stroke-width="1.8"/>
<path d="M455.40,289.90L460.00,295.00L455.40,300.10L450.80,295.00Z" fill="#FF0000"/>
<path d="M534.40,289.90L539.00,295.00L534.40,300.10L529.80,295.00Z" fill="#FF0000"/>
<path d="M682.30,289.90L686.90,295.00L682.30,300.10L677.70,295.00Z" fill="#FF0000"/>
<line x1="455.40" y1="303.20" x2="682.80" y2="303.20" stroke="#FF0000" stroke-width="1.8"/>
<path d="M455.40,298.10L460.00,303.20L455.40,308.30L450.80,303.20Z" fill="#FF0000"/>
<path d="M569.10,298.10L573.70,303.20L569.10,308.30L564.50,303.20Z" fill="#FF0000"/>
<path d="M682.80,298.10L687.40,303.20L682.80,308.30L678.20,303.20Z" fill="#FF0000"/>
<line x1="494.40" y1="310.60" x2="569.10" y2="310.60" stroke="#FF0000" stroke-width="1.8"/>
<path d="M494.40,305.50L499.00,310.60L494.40,315.70L489.80,310.60Z" fill="#FF0000"/>
<path d="M569.10,305.50L573.70,310.60L569.10,315.70L564.50,310.60Z" fill="#FF0000"/>
<text x="144.50" y="81.70" text-anchor="start" font-size="18.5" font-weight="bold" fill="#000" stroke="#000" stroke-width="0.2">25</text>
<circle cx="168.30" cy="70.00" r="1.25" fill="none" stroke="#000" stroke-width="1.1"/>
<text x="171.70" y="81.70" text-anchor="start" font-size="18.5" font-weight="bold" fill="#000" stroke="#000" stroke-width="0.2">C</text>
<text x="145.20" y="359.40" text-anchor="start" font-size="18.5" font-weight="bold" fill="#000" stroke="#000" stroke-width="0.2">18</text>
<circle cx="169.00" cy="347.70" r="1.25" fill="none" stroke="#000" stroke-width="1.1"/>
<text x="172.40" y="359.40" text-anchor="start" font-size="18.5" font-weight="bold" fill="#000" stroke="#000" stroke-width="0.2">C</text>
<text x="482.90" y="81.60" text-anchor="start" font-size="18.5" font-weight="bold" fill="#000" stroke="#000" stroke-width="0.2">25</text>
<circle cx="506.70" cy="69.90" r="1.25" fill="none" stroke="#000" stroke-width="1.1"/>
<text x="510.10" y="81.60" text-anchor="start" font-size="18.5" font-weight="bold" fill="#000" stroke="#000" stroke-width="0.2">C</text>
<text x="483.30" y="359.20" text-anchor="start" font-size="18.5" font-weight="bold" fill="#000" stroke="#000" stroke-width="0.2">18</text>
<circle cx="507.10" cy="347.50" r="1.25" fill="none" stroke="#000" stroke-width="1.1"/>
<text x="510.50" y="359.20" text-anchor="start" font-size="18.5" font-weight="bold" fill="#000" stroke="#000" stroke-width="0.2">C</text>
<text x="2.30" y="21.40" text-anchor="start" font-size="22.5" font-weight="bold" fill="#000" stroke="#1a1a1a" stroke-width="0.3">a</text>
<text x="2.00" y="300.20" text-anchor="start" font-size="22.5" font-weight="bold" fill="#000" stroke="#1a1a1a" stroke-width="0.3">b</text>
<text x="357.60" y="21.40" text-anchor="start" font-size="22.5" font-weight="bold" fill="#000" stroke="#1a1a1a" stroke-width="0.3">c</text>
<text x="357.20" y="300.20" text-anchor="start" font-size="22.5" font-weight="bold" fill="#000" stroke="#1a1a1a" stroke-width="0.3">d</text>
<text x="0" y="0" transform="translate(12.1,121.2) rotate(-90)" text-anchor="middle" font-size="11.8" font-weight="bold" fill="#000" letter-spacing="0.11">8-oxodG/10<tspan dy="-5.2" font-size="9.5">6</tspan><tspan dy="5.2">dN (25°C)</tspan></text>
<text x="0" y="0" transform="translate(12.6,393.6) rotate(-90)" text-anchor="middle" font-size="11.8" font-weight="bold" fill="#000" letter-spacing="0.16">8-oxodG/10<tspan dy="-5.2" font-size="9.5">6</tspan><tspan dy="5.2">dN (18°C)</tspan></text>
<text x="0" y="0" transform="translate(369.9,120.85) rotate(-90)" text-anchor="middle" font-size="11.8" font-weight="bold" fill="#000" letter-spacing="0.17">N6-mdA/10<tspan dy="-5.2" font-size="9.5">6</tspan><tspan dy="5.2">dN (25°C)</tspan></text>
<text x="0" y="0" transform="translate(369.8,392.25) rotate(-90)" text-anchor="middle" font-size="11.8" font-weight="bold" fill="#000" letter-spacing="0.22">N6-mdA/10<tspan dy="-5.2" font-size="9.5">6</tspan><tspan dy="5.2">dN (18°C)</tspan></text>
</svg>
</body></html>
